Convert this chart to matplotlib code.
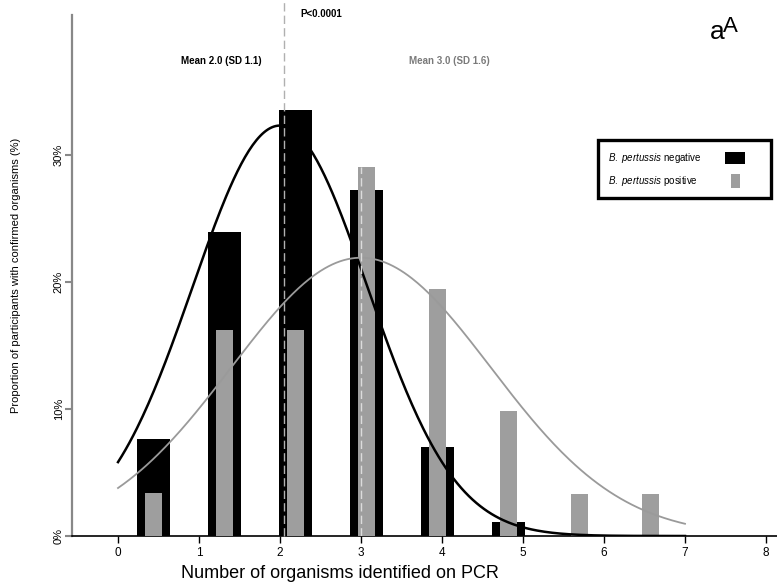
import numpy as np
import matplotlib
matplotlib.use("Agg")
import matplotlib.pyplot as plt
from matplotlib.patches import Rectangle

plt.rcParams['font.family'] = ['Liberation Sans', 'DejaVu Sans']
plt.rcParams['mathtext.fontset'] = 'custom'
plt.rcParams['mathtext.it'] = 'Liberation Sans:italic'
plt.rcParams['mathtext.rm'] = 'Liberation Sans'

# number of organisms per participant (0..7)
counts = [0, 1, 2, 3, 4, 5, 6, 7]
# % of participants, B. pertussis negative / positive
neg_pct = [7.6, 23.9, 33.5, 27.2, 7.0, 1.1, 0.0, 0.0]
pos_pct = [3.4, 16.2, 16.2, 29.0, 19.4, 9.8, 3.3, 3.3]

# fitted normal curves (mean, sd from the labels, peak)
neg_mean, neg_sd, neg_peak = 2.0, 1.08, 32.3
pos_mean, pos_sd, pos_peak = 3.0, 1.6, 21.9
neg_dash_x = 2.05

x_ticks = [0, 1, 2, 3, 4, 5, 6, 7, 8]
y_ticks = [0, 10, 20, 30]
y_ticklabels = ['0%', '10%', '20%', '30%']

fig = plt.figure(figsize=(7.77, 5.87), dpi=100)
ax = fig.add_axes([72 / 777, 1 - 536 / 587, 705 / 777, 521 / 587])

# bars sit on their own grid, offset from the axis ticks
pos = 0.435 + 0.877 * np.array(counts)
ax.bar(pos, neg_pct, width=0.41, color='black', zorder=2)
ax.bar(pos, pos_pct, width=0.21, color='#9e9e9e', zorder=3)

# normal curves
xs = np.linspace(0, 7, 300)
ax.plot(xs, neg_peak * np.exp(-0.5 * ((xs - neg_mean) / neg_sd) ** 2),
        color='black', lw=1.8, zorder=5)
ax.plot(xs, pos_peak * np.exp(-0.5 * ((xs - pos_mean) / pos_sd) ** 2),
        color='#9a9a9a', lw=1.3, zorder=5)

# mean lines
ax.plot([neg_dash_x, neg_dash_x], [0, 42.2], color='#b0b0b0', lw=1.0,
        dashes=(6, 3), clip_on=False, zorder=6)
ax.plot([pos_mean, pos_mean], [0, 29.0], color='#dcdcdc', lw=1.0,
        dashes=(6, 3), zorder=6)

ax.set_xlim(-0.568, 8.136)
ax.set_ylim(0, 41.0)

for s in ['top', 'right']:
    ax.spines[s].set_visible(False)
ax.spines['left'].set_color('#888888')
ax.spines['left'].set_linewidth(1.6)
ax.spines['bottom'].set_color('black')
ax.spines['bottom'].set_linewidth(1.2)

ax.set_xticks(x_ticks)
ax.set_xticklabels([str(t) for t in x_ticks], fontsize=8.5)
ax.set_yticks(y_ticks)
ax.set_yticklabels(y_ticklabels, fontsize=8, rotation=90, va='center')
ax.tick_params(axis='x', length=5, width=1, color='black', pad=3)
ax.tick_params(axis='y', length=5, width=1.5, color='#888888', pad=1)

ax.set_xlabel('Number of organisms identified on PCR', fontsize=13,
              labelpad=2)
ax.xaxis.set_label_coords((340 - 72) / 705, -0.055)
ax.set_ylabel('Proportion of participants with confirmed organisms (%)',
              fontsize=8)
ax.yaxis.set_label_coords(-(72 - 21) / 705, 0.5)

# annotations
ax.text(2.25, 41.1, 'P<0.0001', fontsize=7, fontweight='bold',
        ha='left', va='center')
ax.text(1.28, 37.4, 'Mean 2.0 (SD 1.1)', fontsize=7, fontweight='bold',
        ha='center', va='center')
ax.text(4.09, 37.4, 'Mean 3.0 (SD 1.6)', fontsize=7, fontweight='bold',
        ha='center', va='center', color='#7a7a7a')

fig.text(710 / 777, 1 - 39 / 587, 'a', fontsize=19, ha='left', va='baseline')
fig.text(723 / 777, 1 - 32 / 587, 'A', fontsize=16, ha='left', va='baseline')

# legend box
fig.add_artist(Rectangle((598 / 777, 1 - 198 / 587), 173 / 777, 58 / 587,
                         transform=fig.transFigure, facecolor='white',
                         edgecolor='black', lw=2.4))
fig.text(608 / 777, 1 - 158 / 587, r'$\mathit{B.\ pertussis}$ negative',
         fontsize=7, ha='left', va='center')
fig.text(608 / 777, 1 - 181 / 587, r'$\mathit{B.\ pertussis}$ positive',
         fontsize=7, ha='left', va='center')
fig.add_artist(Rectangle((725 / 777, 1 - 164 / 587), 20 / 777, 12 / 587,
                         transform=fig.transFigure, facecolor='black',
                         edgecolor='none'))
fig.add_artist(Rectangle((731 / 777, 1 - 188 / 587), 9 / 777, 14 / 587,
                         transform=fig.transFigure, facecolor='#9e9e9e',
                         edgecolor='none'))

fig.savefig('out.png', dpi=100)
